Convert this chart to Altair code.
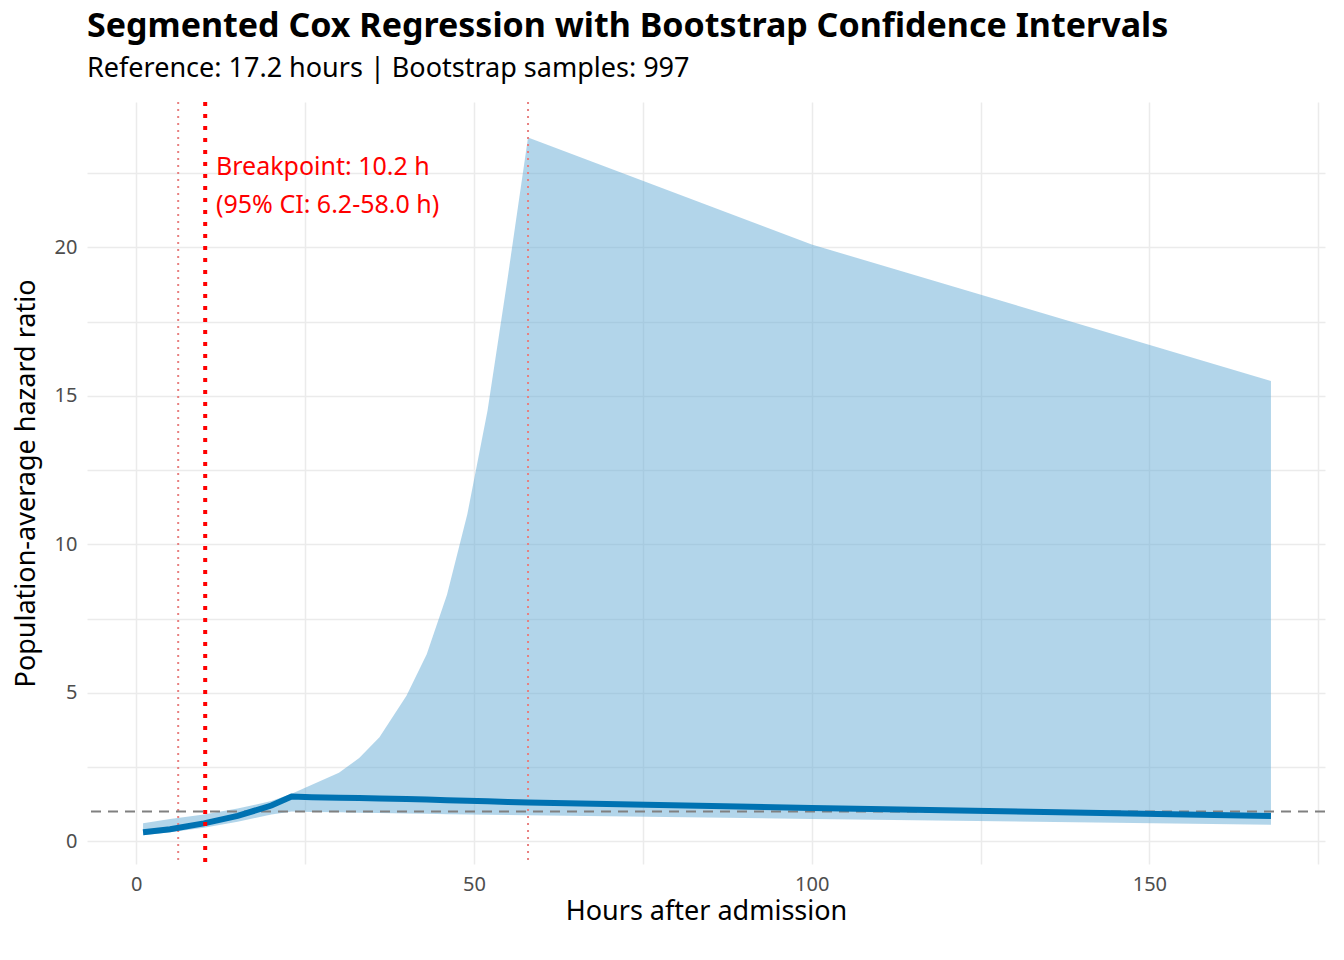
import altair as alt
import pandas as pd

hours = [1, 5, 10, 15, 20, 23, 26, 30, 33, 36, 40, 43, 46, 49, 52, 55, 58, 100, 168]
hr = [0.3, 0.4, 0.6, 0.85, 1.2, 1.5, 1.48, 1.46, 1.45, 1.44, 1.42, 1.4, 1.38, 1.36, 1.34, 1.32, 1.3, 1.12, 0.85]
upper = [0.6, 0.75, 0.9, 1.1, 1.35, 1.6, 1.9, 2.3, 2.8, 3.5, 4.9, 6.3, 8.3, 11.0, 14.5, 19.0, 23.7, 20.1, 15.5]
lower = [0.2, 0.3, 0.45, 0.65, 0.9, 1.0, 0.98, 0.97, 0.96, 0.95, 0.93, 0.92, 0.91, 0.9, 0.89, 0.88, 0.87, 0.75, 0.55]
breakpoint = [10.2]
ci_bounds = [6.2, 58.0]
ref_line = [1.0]
label_pos = [(11.8, 22.7)]
label_text = "Breakpoint: 10.2 h\n(95% CI: 6.2-58.0 h)"

df = pd.DataFrame({"x": hours, "hr": hr, "lo": lower, "hi": upper})
FONT = "Noto Sans"
xs = alt.Scale(domain=[-7.3, 176], nice=False, zero=False)
ys = alt.Scale(domain=[-0.77, 24.9], nice=False, zero=False)

xax = alt.Axis(values=[0, 25, 50, 75, 100, 125, 150, 175],
               labelExpr="datum.value % 50 == 0 ? datum.label : ''",
               title="Hours after admission", ticks=False, domain=False,
               gridColor="#ebebeb", gridWidth=1.5, labelFontSize=20, labelColor="#4d4d4d",
               titleFontSize=27, titleFontWeight="normal", titleColor="black", labelPadding=10)
yax = alt.Axis(values=[0, 2.5, 5, 7.5, 10, 12.5, 15, 17.5, 20, 22.5],
               labelExpr="datum.value % 5 == 0 ? datum.label : ''",
               title="Population-average hazard ratio", ticks=False, domain=False,
               gridColor="#ebebeb", gridWidth=1.5, labelFontSize=20, labelColor="#4d4d4d",
               titleFontSize=27, titleFontWeight="normal", titleColor="black", labelPadding=10,
               titlePadding=14)

band = alt.Chart(df).mark_area(color="#6baed6", opacity=0.52).encode(
    x=alt.X("x:Q", scale=xs, axis=xax), y=alt.Y("lo:Q", scale=ys, axis=yax), y2="hi:Q")
line = alt.Chart(df).mark_line(color="#0072B2", strokeWidth=6).encode(x="x:Q", y="hr:Q")
ref = alt.Chart(pd.DataFrame({"y": ref_line})).mark_rule(
    color="#808080", strokeDash=[10, 7], strokeWidth=2).encode(y="y:Q")
bp = alt.Chart(pd.DataFrame({"x": breakpoint})).mark_rule(
    color="red", strokeDash=[4, 8], strokeWidth=4).encode(x="x:Q")
ci = alt.Chart(pd.DataFrame({"x": ci_bounds})).mark_rule(
    color="#e88080", strokeDash=[2, 5], strokeWidth=2).encode(x="x:Q")
lab = alt.Chart(pd.DataFrame({"x": [label_pos[0][0]], "y": [label_pos[0][1]], "t": [label_text]})).mark_text(
    align="left", baseline="middle", color="red", fontSize=25, font=FONT, lineBreak="\n", lineHeight=38
).encode(x="x:Q", y="y:Q", text="t:N")

chart = alt.layer(band, ci, ref, line, bp, lab).properties(
    width=1238, height=762,
    padding={"left": 4, "top": 2, "right": 5, "bottom": 5},
    title=alt.TitleParams("Segmented Cox Regression with Bootstrap Confidence Intervals",
                          subtitle="Reference: 17.2 hours | Bootstrap samples: 997",
                          anchor="start", frame="group", fontSize=34, fontWeight="bold",
                          subtitleFontSize=27, font=FONT, subtitleFont=FONT,
                          subtitleColor="black", subtitlePadding=12, offset=18)
).configure(font=FONT).configure_view(stroke=None)

chart.save("out.html", embed_options={"renderer": "svg", "actions": False})
